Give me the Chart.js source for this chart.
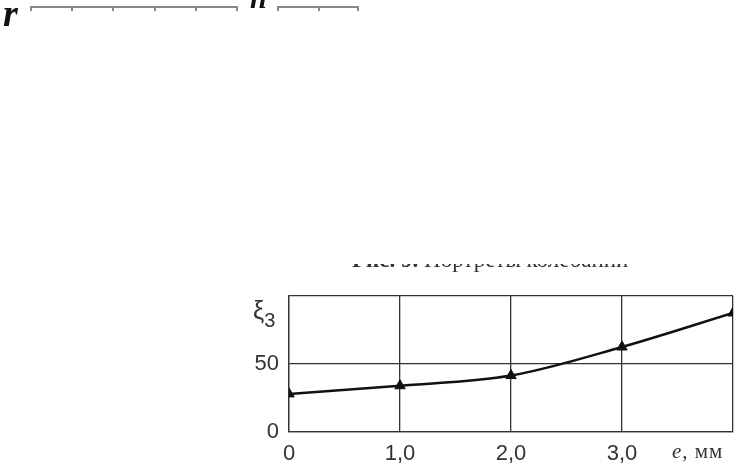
<!DOCTYPE html>
<html>
<head>
<meta charset="utf-8">
<script src="https://cdn.jsdelivr.net/npm/chart.js@4"></script>
<style>
  html, body { margin: 0; padding: 0; background: #fff; }
  #wrap { position: relative; width: 745px; height: 468px; overflow: hidden; }
  #chart { position: absolute; left: 0; top: 0; }
  .txt { position: absolute; white-space: nowrap; color: #222; }
  .bar { position: absolute; height: 0; border-top: 2px solid #888; }
  .tick { position: absolute; width: 0; height: 5px; border-left: 2px solid #888; }
  #caption-clip { position: absolute; left: 340px; top: 264px; width: 300px; height: 9px; overflow: hidden; }
</style>
</head>
<body>
<div id="wrap">
  <canvas id="chart" width="745" height="468"></canvas>

  <div class="txt" style="left:3px; top:-9px; font: italic bold 38px 'Liberation Serif'; color:#111;">r</div>
  <div class="bar" style="left:30px; top:6px; width:208px;"></div>
  <div class="txt" style="left:250px; top:-19px; font: italic bold 30px 'Liberation Serif'; color:#111;">n</div>
  <div class="bar" style="left:277px; top:6px; width:82px;"></div>
  <div id="top-ticks"></div>

  <div id="caption-clip">
    <div class="txt" style="left:12px; top:-17px; font: 23px 'Liberation Serif'; color:#333;"><b>Рис. 9.</b> Портреты колебаний</div>
  </div>

  <div class="txt" style="left:253px; top:296px; font: 25px 'Liberation Sans'; color:#333;">ξ<span style="font-size:20px; position:relative; top:8px;">3</span></div>
  <div class="txt" style="left:672px; top:439px; font: 21px 'Liberation Serif'; letter-spacing:1px; color:#333;"><i>e</i>, мм</div>
</div>
<script>
const xValues = [0, 1, 2, 3, 4];
const xiValues = [28, 34, 41.5, 62.5, 87.5];
const xTickLabels = ["0", "1,0", "2,0", "3,0", ""];
const yTicks = [0, 50, 100];
const yTickLabels = ["0", "50", ""];
const scaleBarTicks = [30, 71, 112, 154, 195, 236, 277, 318, 357];

const topTicks = document.getElementById("top-ticks");
for (const x of scaleBarTicks) {
  const t = document.createElement("div");
  t.className = "tick";
  t.style.left = x + "px";
  t.style.top = "6px";
  topTicks.appendChild(t);
}

const gridColor = "#333";
const tickFont = { family: "Liberation Sans", size: 22 };

new Chart(document.getElementById("chart"), {
  type: "line",
  data: {
    datasets: [
      {
        data: xValues.map((x, i) => ({ x, y: xiValues[i] })),
        borderColor: "#111",
        backgroundColor: "#111",
        borderWidth: 2.5,
        cubicInterpolationMode: "monotone",
        pointStyle: "triangle",
        pointRadius: 6,
        pointBorderWidth: 1,
      },
    ],
  },
  options: {
    responsive: false,
    animation: false,
    layout: { padding: { left: 0, top: 296, right: 12, bottom: 0 } },
    plugins: { legend: { display: false }, tooltip: { enabled: false } },
    scales: {
      x: {
        type: "linear",
        min: 0,
        max: 4,
        afterBuildTicks: (axis) => {
          axis.ticks = xValues.map((v) => ({ value: v }));
        },
        afterFit: (axis) => {
          axis.height = 36;
        },
        grid: { color: gridColor, lineWidth: 1.3, drawTicks: false },
        border: { color: gridColor, width: 1.3 },
        ticks: {
          padding: 9,
          color: "#333",
          font: tickFont,
          maxRotation: 0,
          callback: (value) => xTickLabels[xValues.indexOf(value)] ?? "",
        },
      },
      y: {
        type: "linear",
        min: 0,
        max: 100,
        afterBuildTicks: (axis) => {
          axis.ticks = yTicks.map((v) => ({ value: v }));
        },
        afterFit: (axis) => {
          axis.width = 289;
        },
        grid: { color: gridColor, lineWidth: 1.3, drawTicks: false },
        border: { color: gridColor, width: 1.3 },
        ticks: {
          padding: 10,
          color: "#333",
          font: tickFont,
          callback: (value) => yTickLabels[yTicks.indexOf(value)] ?? "",
        },
      },
    },
  },
});
</script>
</body>
</html>
